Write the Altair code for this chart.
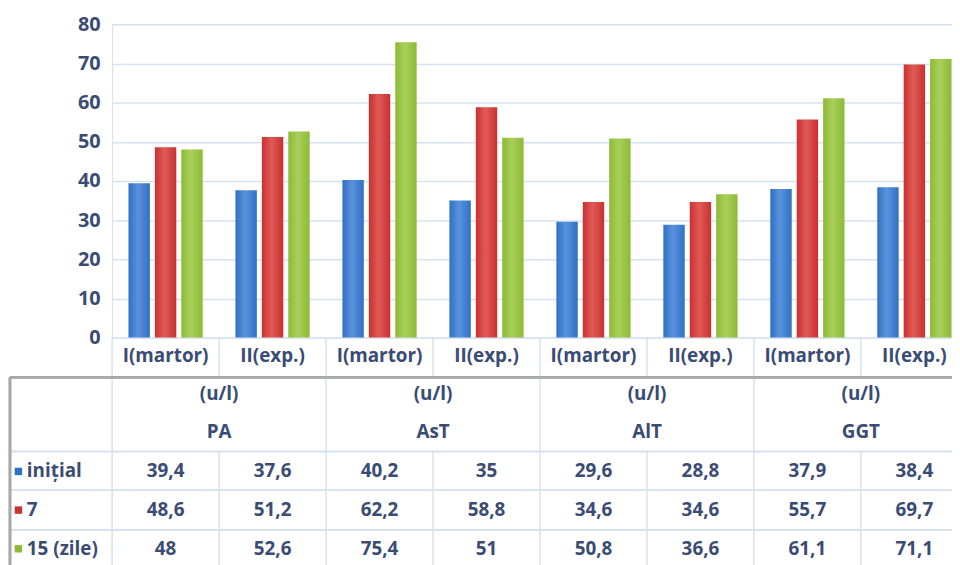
import altair as alt
import pandas as pd

# ---------------- data ----------------
groups = ["PA", "AsT", "AlT", "GGT"]
subgroups = ["I(martor)", "II(exp.)"]
series = ["inițial", "7", "15 (zile)"]
unit = "(u/l)"
v_initial = [39.4, 37.6, 40.2, 35, 29.6, 28.8, 37.9, 38.4]
v_day7 = [48.6, 51.2, 62.2, 58.8, 34.6, 34.6, 55.7, 69.7]
v_day15 = [48, 52.6, 75.4, 51, 50.8, 36.6, 61.1, 71.1]
y_ticks = [0, 10, 20, 30, 40, 50, 60, 70, 80]
colors = ["#2f70c6", "#c93131", "#8cba36"]
light = ["#5a93dc", "#e05a55", "#a9d05a"]

keys = [f"{g}|{s}" for g in groups for s in subgroups]
subs = [s for g in groups for s in subgroups]
values = [v_initial, v_day7, v_day15]


def fmt(v):
    return f"{v:g}".replace(".", ",")


rows = []
for si, s in enumerate(series):
    for i, k in enumerate(keys):
        rows.append({"key": k, "sub": subs[i], "series": s,
                     "value": values[si][i], "label": fmt(values[si][i])})
df = pd.DataFrame(rows)
cats = pd.DataFrame({"key": keys, "sub": subs,
                     "first": [s == subgroups[0] for s in subs]})
grp = pd.DataFrame({"key": [f"{g}|{subgroups[1]}" for g in groups],
                    "group": groups, "unit": [unit] * len(groups)})
leg = pd.DataFrame({"series": series})

# ---------------- layout ----------------
FONT = "Open Sans"
FS = 19
TXT = "#3a4b74"
GRID = "#d6e2f2"
BORDER = "#a8a8a8"
W, H = 847, 316
XR = 863
row_y = [451, 490, 529]

xscale = alt.Scale(domain=keys, range=[0, XR], paddingInner=0, paddingOuter=0)
X = alt.X("key:N", scale=xscale, axis=None)
X0 = alt.X("key:N", scale=xscale, axis=None, bandPosition=0)
Y = alt.Y("value:Q", scale=alt.Scale(domain=[0, 80], nice=False),
          axis=alt.Axis(values=y_ticks, title=None, domain=False, ticks=False,
                        grid=True, gridColor=GRID, gridWidth=1.5,
                        labelFont=FONT, labelFontSize=FS + 1, labelFontWeight="bold",
                        labelColor=TXT, labelPadding=12))
XO = alt.XOffset("series:N", scale=alt.Scale(domain=series, paddingInner=0.19,
                                              paddingOuter=0.62))

layers = []
for si, s in enumerate(series):
    grad = alt.Gradient(gradient="linear", x1=0, x2=1, y1=0, y2=0,
                        stops=[alt.GradientStop(color=colors[si], offset=0),
                               alt.GradientStop(color=light[si], offset=0.45),
                               alt.GradientStop(color=colors[si], offset=1)])
    layers.append(
        alt.Chart(df).transform_filter(alt.datum.series == s)
        .mark_bar(color=grad).encode(x=X, xOffset=XO, y=Y)
    )

# table grid lines
vcat = alt.Chart(cats).mark_rule(color=GRID, strokeWidth=1.5).encode(
    x=X0, y=alt.value(H), y2=alt.value(356))
vhead = alt.Chart(cats).transform_filter(alt.datum.first).mark_rule(
    color=GRID, strokeWidth=1.5).encode(x=X0, y=alt.value(356), y2=alt.value(431))
vdata = alt.Chart(cats).mark_rule(color=GRID, strokeWidth=1.5).encode(
    x=X0, y=alt.value(431), y2=alt.value(600))
hlines = [
    alt.Chart(leg).mark_rule(color=GRID, strokeWidth=1.5).encode(
        x=alt.value(-103), x2=alt.value(XR), y=alt.value(yy))
    for yy in [431, 470, 510]
]
top_border = alt.Chart(leg).mark_rule(color=BORDER, strokeWidth=2.5).encode(
    x=alt.value(-103), x2=alt.value(XR), y=alt.value(356))
left_border = alt.Chart(leg).mark_rule(color=BORDER, strokeWidth=2.5).encode(
    x=alt.value(-103), y=alt.value(356), y2=alt.value(600))

txt = dict(font=FONT, fontSize=FS, fontWeight="bold", color=TXT,
           align="center", baseline="middle")
cat_text = alt.Chart(cats).mark_text(**txt).encode(
    x=X, y=alt.value(335), text="sub:N")
unit_text = alt.Chart(grp).mark_text(**txt).encode(
    x=X0, y=alt.value(373), text="unit:N")
grp_text = alt.Chart(grp).mark_text(**txt).encode(
    x=X0, y=alt.value(411), text="group:N")
val_texts = [
    alt.Chart(df).transform_filter(alt.datum.series == s).mark_text(**txt).encode(
        x=X, y=alt.value(row_y[si]), text="label:N")
    for si, s in enumerate(series)
]
leg_sq = [
    alt.Chart(leg).transform_filter(alt.datum.series == s)
    .mark_square(size=56, color=colors[si], opacity=1)
    .encode(x=alt.value(-94.5), y=alt.value(row_y[si]))
    for si, s in enumerate(series)
]
leg_txt = [
    alt.Chart(leg).transform_filter(alt.datum.series == s)
    .mark_text(font=FONT, fontSize=FS, fontWeight="bold", color=TXT,
               align="left", baseline="middle")
    .encode(x=alt.value(-86), y=alt.value(row_y[si]), text="series:N")
    for si, s in enumerate(series)
]

chart = alt.layer(
    *layers, vcat, vhead, vdata, *hlines, top_border, left_border,
    cat_text, unit_text, grp_text, *val_texts, *leg_sq, *leg_txt
).properties(
    width=W, height=H,
    autosize=alt.AutoSizeParams(type="none"),
    padding={"left": 105, "top": 14, "right": 0, "bottom": 227},
).configure_view(stroke=None).configure(background="white")

chart.save("out.html", embed_options={"renderer": "svg", "actions": False})
